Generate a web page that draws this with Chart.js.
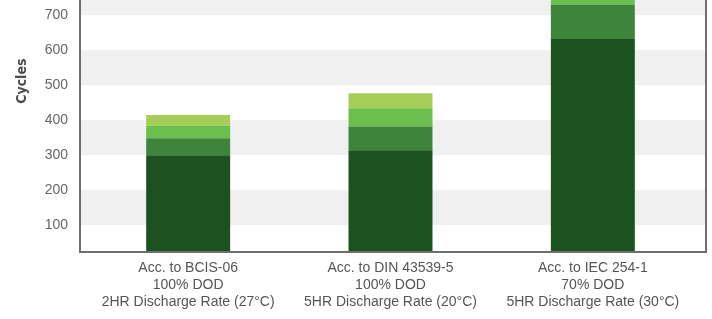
<!DOCTYPE html>
<html>
<head>
<meta charset="utf-8">
<title>Cycles</title>
<script src="https://cdn.jsdelivr.net/npm/chart.js@4.4.1/dist/chart.umd.min.js"></script>
<style>
    html, body { margin: 0; padding: 0; background: #fff; overflow: hidden; }
    /* the original chart is cut off at the top, so the canvas is taller and shifted up */
    #wrap { position: absolute; left: 0; top: -117px; width: 712px; height: 436px; }
</style>
</head>
<body>
<div id="wrap"><canvas id="cyclesChart"></canvas></div>
<script>
const categories = [
    ['Acc. to BCIS-06', '100% DOD', '2HR Discharge Rate (27°C)'],
    ['Acc. to DIN 43539-5', '100% DOD', '5HR Discharge Rate (20°C)'],
    ['Acc. to IEC 254-1', '70% DOD', '5HR Discharge Rate (30°C)']
];
const baseCycles = [300, 314, 632];
const secondStep = [48, 68, 98];
const thirdStep = [36, 52, 60];
const topStep = [31, 43, 45];
const yTicks = [100, 200, 300, 400, 500, 600, 700, 800, 900, 1000];

const labelFont = { family: 'Liberation Sans, Arial, sans-serif', size: 14, lineHeight: 1.19 };

// grey bands between every other tick + the grey frame around the plot
const bandsAndFrame = {
    id: 'bandsAndFrame',
    beforeDatasetsDraw(chart) {
        const { ctx, chartArea, scales: { y } } = chart;
        const left = chartArea.left - 7;
        const right = chartArea.right + 12;
        ctx.save();
        ctx.fillStyle = '#f0f0f0';
        for (let i = 0; i < yTicks.length - 1; i += 2) {
            const top = y.getPixelForValue(yTicks[i + 1]);
            const bottom = y.getPixelForValue(yTicks[i]);
            ctx.fillRect(left, top, right - left, bottom - top);
        }
        ctx.restore();
    },
    afterDatasetsDraw(chart) {
        const { ctx, chartArea } = chart;
        const left = chartArea.left - 7;
        const right = chartArea.right + 12;
        ctx.save();
        ctx.strokeStyle = '#6e6e6e';
        ctx.lineWidth = 2;
        ctx.beginPath();
        ctx.moveTo(left, chartArea.top);
        ctx.lineTo(left, chartArea.bottom);
        ctx.lineTo(right, chartArea.bottom);
        ctx.lineTo(right, chartArea.top);
        ctx.stroke();
        ctx.restore();
    }
};

const ctx = document.getElementById('cyclesChart').getContext('2d');
const cyclesChart = new Chart(ctx, {
    type: 'bar',
    data: {
        labels: categories,
        datasets: [
            { label: 'Base', data: baseCycles, backgroundColor: '#1b5220' },
            { label: 'Step 2', data: secondStep, backgroundColor: '#3e853c' },
            { label: 'Step 3', data: thirdStep, backgroundColor: '#6bbf4c' },
            { label: 'Step 4', data: topStep, backgroundColor: '#a7cd59' }
        ]
    },
    options: {
        responsive: true,
        maintainAspectRatio: false,
        animation: false,
        layout: { padding: { top: 11, right: 18, bottom: 7, left: 0 } },
        datasets: {
            bar: { barPercentage: 0.415, categoryPercentage: 1, borderWidth: 0 }
        },
        plugins: {
            legend: { display: false },
            tooltip: { enabled: false }
        },
        scales: {
            x: {
                stacked: true,
                grid: { display: false },
                border: { display: false },
                ticks: { font: labelFont, color: '#555', padding: 0, maxRotation: 0, autoSkip: false },
                afterFit: scale => { scale.height = 60; }
            },
            y: {
                stacked: true,
                min: 23,
                max: 1000,
                grid: { display: false, drawTicks: false },
                border: { display: false },
                ticks: { font: labelFont, color: '#666', padding: 19 },
                afterBuildTicks: scale => { scale.ticks = yTicks.map(v => ({ value: v })); },
                afterFit: scale => { scale.width = 87; },
                title: {
                    display: true,
                    text: 'Cycles',
                    color: '#4a4a4a',
                    font: { family: 'Liberation Sans Narrow, DejaVu Sans Condensed, sans-serif', size: 14, weight: 'bold' },
                    padding: { top: 14, bottom: 0 }
                }
            }
        }
    },
    plugins: [bandsAndFrame]
});
</script>
</body>
</html>
